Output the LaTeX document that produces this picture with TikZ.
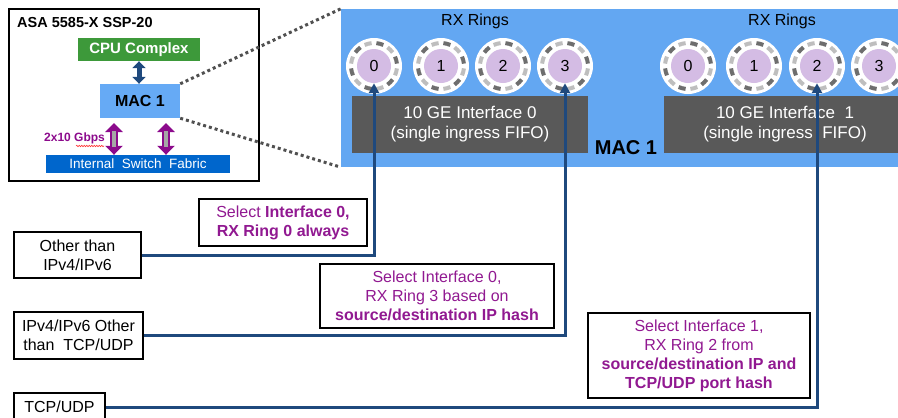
\documentclass[tikz,border=0pt]{standalone}
\usepackage{fontspec}
\setmainfont{Liberation Sans}
\usetikzlibrary{arrows.meta,decorations.pathmorphing}
\definecolor{panelblue}{RGB}{99,167,242}
\definecolor{macblue}{RGB}{102,170,245}
\definecolor{ifgrey}{RGB}{89,89,89}
\definecolor{navy}{RGB}{31,73,125}
\definecolor{fabricblue}{RGB}{0,102,204}
\definecolor{cpugreen}{RGB}{61,153,58}
\definecolor{lblpurple}{RGB}{145,25,145}
\definecolor{arrpurple}{RGB}{140,10,140}
\definecolor{ringpurple}{RGB}{212,188,228}
\definecolor{segdark}{RGB}{110,110,110}
\definecolor{seglight}{RGB}{190,190,190}
\definecolor{dotgrey}{RGB}{80,80,80}
\newcommand\rxring[3]{%
  \node[ringout] (r#1) at (#2) {};
  \foreach \a in {0,60,...,300}{%
    \draw[segdark,line width=4pt] ([shift={(\a+6:23pt)}]r#1.center) arc[start angle=\a+6,end angle=\a+24,radius=23pt];
    \draw[seglight,line width=4pt] ([shift={(\a+36:23pt)}]r#1.center) arc[start angle=\a+36,end angle=\a+54,radius=23pt];
  }
  \node[ringin] (p#1) at (#2) {#3};
}
\begin{document}
\begin{tikzpicture}[x=1pt,y=-1pt,
  ringout/.style={circle,fill=white,minimum size=56pt,inner sep=0pt},
  ringin/.style={circle,fill=ringpurple,minimum size=34pt,inner sep=0pt,font=\fontsize{16}{19}\selectfont},
  srcbox/.style={draw=black,line width=2pt,fill=white,align=center,inner sep=0pt,font=\fontsize{16}{19}\selectfont},
  selbox/.style={draw=black,line width=2pt,fill=white,align=center,inner sep=0pt,text=lblpurple,font=\fontsize{16}{19}\selectfont},
  ifbox/.style={fill=ifgrey,text=white,align=center,inner sep=0pt,minimum height=57pt,font=\fontsize{17}{20}\selectfont},
  flow/.style={navy,line width=3pt,-{Triangle[length=10pt,width=10pt]}},
  fatarrow/.style={arrpurple,line width=8pt,{Triangle[length=9pt,width=17pt]}-{Triangle[length=9pt,width=17pt]}},
  fatcore/.style={gray!70,line width=4pt,shorten <=8pt,shorten >=8pt},
  dotline/.style={dotgrey,line width=3pt,dash pattern=on 3pt off 3pt},
  rxlbl/.style={font=\fontsize{16}{19}\selectfont}
]
\useasboundingbox (0,0) rectangle (898,418);
\clip (0,0) rectangle (898,418);

% ASA box
\node[draw=black,line width=2pt,minimum width=250pt,minimum height=172pt,inner sep=0pt] (asa) at (134,95) {};
\node[anchor=west,inner sep=0pt,font=\bfseries\fontsize{14.5}{17}\selectfont] (title) at (17,23) {ASA 5585-X SSP-20};
\node[fill=cpugreen,text=white,minimum width=122pt,minimum height=23pt,inner sep=0pt,font=\bfseries\fontsize{15}{18}\selectfont] (cpu) at (139,49.5) {CPU Complex};
\node[fill=macblue,minimum width=80pt,minimum height=34pt,inner sep=0pt,font=\bfseries\fontsize{16}{19}\selectfont] (mac) at (140,101) {MAC 1};
\node[fill=fabricblue,text=white,minimum width=184pt,minimum height=18pt,inner sep=0pt,font=\fontsize{13.5}{16}\selectfont] (fab) at (138,164) {Internal\ \ Switch\ \ Fabric};
\node[anchor=west,inner sep=0pt,text=arrpurple,font=\bfseries\fontsize{12}{14}\selectfont] (gbps) at (44,138) {2x10 Gbps};
\draw[red!80,line width=0.6pt,decorate,decoration={snake,amplitude=0.7pt,segment length=2.5pt}] (76,146) -- (104,146);

\draw[navy,line width=5pt,{Triangle[length=7pt,width=13pt]}-{Triangle[length=7pt,width=13pt]}] (cpu.south) -- (cpu.south |- mac.north);
\coordinate (fa1) at (114,123);
\coordinate (fa2) at (166,123);
\draw[fatarrow] (fa1) -- (fa1 |- fab.north);
\draw[fatcore] (fa1) -- (fa1 |- fab.north);
\draw[fatarrow] (fa2) -- (fa2 |- fab.north);
\draw[fatcore] (fa2) -- (fa2 |- fab.north);

% MAC panel
\node[fill=panelblue,minimum width=570pt,minimum height=158pt,inner sep=0pt] (panel) at (626,88) {};
\draw[dotline] (mac.north east) -- (panel.north west);
\draw[dotline] (mac.south east) -- (panel.south west);

\node[rxlbl] (rx0) at (475,21) {RX Rings};
\node[rxlbl] (rx1) at (782,21) {RX Rings};
\rxring{00}{374,66}{0}
\rxring{01}{441,66}{1}
\rxring{02}{503,66}{2}
\rxring{03}{565,66}{3}
\rxring{10}{688,66}{0}
\rxring{11}{754,66}{1}
\rxring{12}{817,66}{2}
\rxring{13}{879,66}{3}

\node[ifbox,minimum width=236pt] (if0) at (470,124.5) {10 GE Interface 0\\(single ingress FIFO)};
\node[ifbox,minimum width=242pt] (if1) at (785,124.5) {10 GE Interface\ \ 1\\(single ingress\ \ FIFO)};
\node[font=\bfseries\fontsize{20}{24}\selectfont,inner sep=0pt] (maclbl) at (626,148) {MAC 1};

% source boxes
\node[srcbox,minimum width=127pt,minimum height=46pt] (o1) at (77.5,255) {Other than\\IPv4/IPv6};
\node[srcbox,minimum width=129pt,minimum height=47pt] (o2) at (78.5,335.5) {IPv4/IPv6 Other\\than\ \ TCP/UDP};
\node[srcbox,minimum width=91pt,minimum height=28pt] (o3) at (59.5,407) {TCP/UDP};

% selection labels
\node[selbox,minimum width=168pt,minimum height=47pt] (l1) at (283,222.5) {Select \textbf{Interface 0,}\\\textbf{RX Ring 0 always}};
\node[selbox,minimum width=234pt,minimum height=64pt] (l2) at (437,296) {Select Interface 0,\\RX Ring 3 based on\\\textbf{source/destination IP hash}};
\node[selbox,minimum width=222pt,minimum height=85pt] (l3) at (699,355.5) {Select Interface 1,\\RX Ring 2 from\\\textbf{source/destination IP and}\\\textbf{TCP/UDP port hash}};

% flows
\draw[flow] (o1.east) -| (p00.south);
\draw[flow] (o2.east) -| (p03.south);
\draw[flow] (o3.east) -| (p12.south);
\end{tikzpicture}
\end{document}
